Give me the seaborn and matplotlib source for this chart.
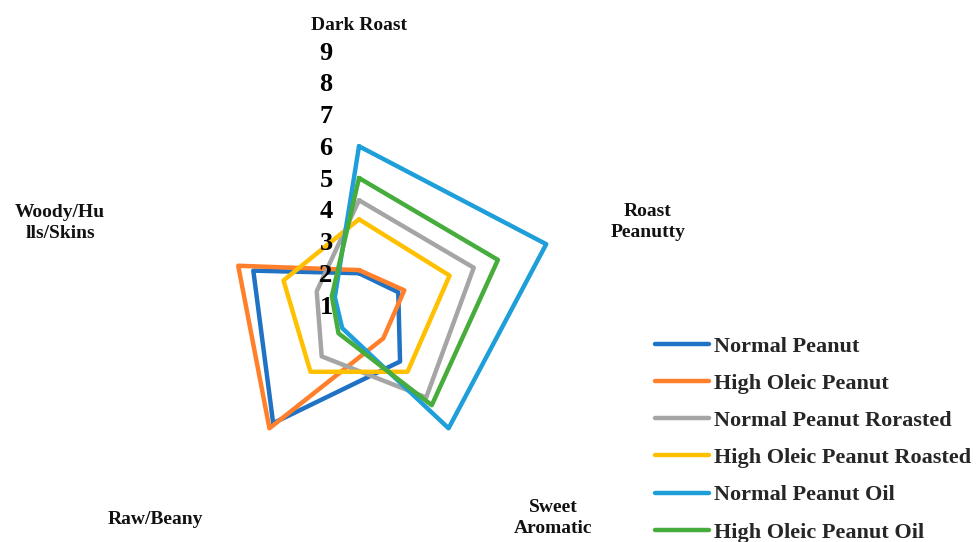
import numpy as np
import pandas as pd
import matplotlib
matplotlib.use("Agg")
import matplotlib.pyplot as plt
import seaborn as sns

# Sensory attributes (clockwise from the top)
attributes = ["Dark Roast", "Roast\nPeanutty", "Sweet\nAromatic", "Raw/Beany", "Woody/Hu\nlls/Skins"]

series_names = [
    "Normal Peanut",
    "High Oleic Peanut",
    "Normal Peanut Rorasted",
    "High Oleic Peanut Roasted",
    "Normal Peanut Oil",
    "High Oleic Peanut Oil",
]

normal_peanut = [2.0, 2.3, 3.2, 5.6, 4.5]
high_oleic_peanut = [2.1, 2.5, 2.3, 5.8, 5.0]
normal_peanut_roasted = [4.3, 4.8, 4.6, 3.0, 2.4]
high_oleic_peanut_roasted = [3.7, 4.0, 3.6, 3.6, 3.5]
normal_peanut_oil = [6.0, 7.2, 5.8, 1.9, 1.8]
high_oleic_peanut_oil = [5.0, 5.6, 4.9, 2.1, 1.9]

radial_ticks = [1, 2, 3, 4, 5, 6, 7, 8, 9]

colors = ["#1F72C4", "#FF7F2A", "#A5A5A5", "#FFC000", "#1F9FDA", "#46AC3C"]

all_values = [normal_peanut, high_oleic_peanut, normal_peanut_roasted,
              high_oleic_peanut_roasted, normal_peanut_oil, high_oleic_peanut_oil]

# Long-form table, each polygon closed back on its first attribute
n = len(attributes)
angles = np.linspace(0, 2 * np.pi, n, endpoint=False)
rows = []
for name, vals in zip(series_names, all_values):
    for i in range(n + 1):
        rows.append({"series": name, "theta": angles[i % n] if i < n else 2 * np.pi,
                     "value": vals[i % n], "order": i})
df = pd.DataFrame(rows)

sns.set_theme(style="white")
plt.rcParams["font.family"] = ["Liberation Serif", "DejaVu Serif"]

W, H, DPI = 976, 542, 100
fig = plt.figure(figsize=(W / DPI, H / DPI), dpi=DPI)
fig.patch.set_facecolor("white")

cx, cy, R = 359, 305, 254  # centre and outer radius in pixels
ax = fig.add_axes([(cx - R) / W, (H - cy - R) / H, 2 * R / W, 2 * R / H], projection="polar")
ax.set_theta_zero_location("N")
ax.set_theta_direction(-1)

sns.lineplot(data=df, x="theta", y="value", hue="series", hue_order=series_names,
             palette=colors, sort=False, estimator=None, units="series",
             linewidth=3.2, ax=ax, legend=False)

ax.set_ylim(radial_ticks[0], radial_ticks[-1])
ax.set_xticks([])
ax.set_yticks([])
ax.grid(False)
ax.spines["polar"].set_visible(False)
ax.set_facecolor("none")
ax.set_xlabel("")
ax.set_ylabel("")

# Radial value labels beside the vertical axis
for k in radial_ticks:
    ax.annotate(str(k), xy=(0, k), xytext=(-33, -2), textcoords="offset pixels",
                ha="center", va="center", fontsize=19, fontweight="bold", color="black")

# Attribute labels around the chart
label_pos = [(359, 26), (648, 222), (553, 518), (155, 519), (60, 223)]
for text, (px, py) in zip(attributes, label_pos):
    fig.text(px / W, 1 - py / H, text, ha="center", va="center", fontsize=14,
             fontweight="bold", color="#111111", linespacing=1.3)

# Legend
handles = [matplotlib.lines.Line2D([], [], color=c, linewidth=3.2, solid_capstyle="round")
           for c in colors]
leg = fig.legend(handles, series_names, loc="upper left",
                 bbox_to_anchor=(655 / W, 1 - 336 / H), frameon=False,
                 prop={"weight": "bold", "size": 16}, handlelength=2.45,
                 handletextpad=0.2, labelspacing=0.75, borderpad=0, borderaxespad=0)

fig.savefig("out.png", dpi=DPI, facecolor="white")
